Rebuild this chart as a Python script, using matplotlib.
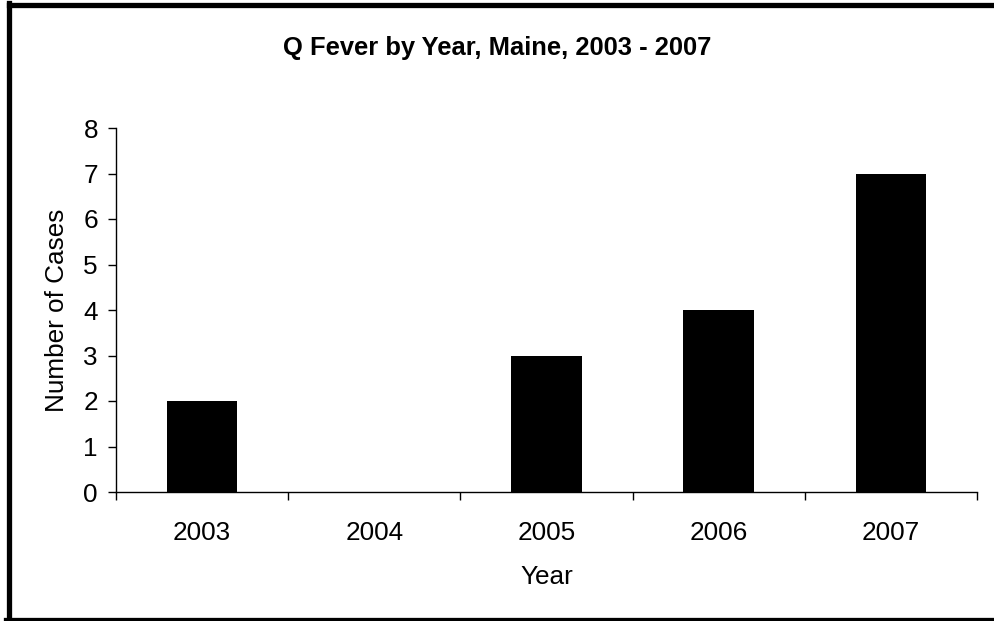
import numpy as np
import matplotlib.pyplot as plt
from matplotlib.lines import Line2D

years = ['2003', '2004', '2005', '2006', '2007']
cases = [2, 0, 3, 4, 7]

plt.rcParams['font.family'] = ['Liberation Sans', 'DejaVu Sans']

W, H = 995, 621
fig = plt.figure(figsize=(W / 100, H / 100), dpi=100)

# axes box in pixels: left 116, right 977, top 128, bottom 492
ax = fig.add_axes([116 / W, 1 - 492 / H, (977 - 116) / W, (492 - 128) / H])

x = np.arange(len(years))
ax.bar(x, cases, width=0.41, color='black', linewidth=0)

ax.set_xlim(-0.5, len(years) - 0.5)
ax.set_ylim(0, 8)
ax.set_yticks(range(0, 9))
ax.set_xticks(x)
ax.set_xticklabels(years)
ax.set_xticks(np.arange(-0.5, len(years)), minor=True)

for s in ['top', 'right']:
    ax.spines[s].set_visible(False)
for s in ['left', 'bottom']:
    ax.spines[s].set_linewidth(1.0)

fs = 18.8
ax.tick_params(axis='y', length=6, width=1, pad=7, labelsize=fs)
ax.tick_params(axis='x', which='major', length=0, pad=21, labelsize=fs)
ax.tick_params(axis='x', which='minor', length=6, width=1)

ax.set_xlabel('Year', fontsize=fs, labelpad=14)
ax.set_ylabel('Number of Cases', fontsize=fs, labelpad=10)

fig.text(0.5, 1 - 48 / H, 'Q Fever by Year, Maine, 2003 - 2007',
         ha='center', va='center', fontsize=18.4, fontweight='bold')

# outer frame: top, left and bottom edges (right edge is cut off)
lw = 3.8
fig.add_artist(Line2D([8.5 / W, 1], [1 - 4.5 / H, 1 - 4.5 / H], color='black', lw=lw))
fig.add_artist(Line2D([8.5 / W, 8.5 / W], [1 - 2.5 / H, 0], color='black', lw=lw))
fig.add_artist(Line2D([6.5 / W, 1], [1.5 / H, 1.5 / H], color='black', lw=lw))

fig.savefig('out.png', dpi=100)
